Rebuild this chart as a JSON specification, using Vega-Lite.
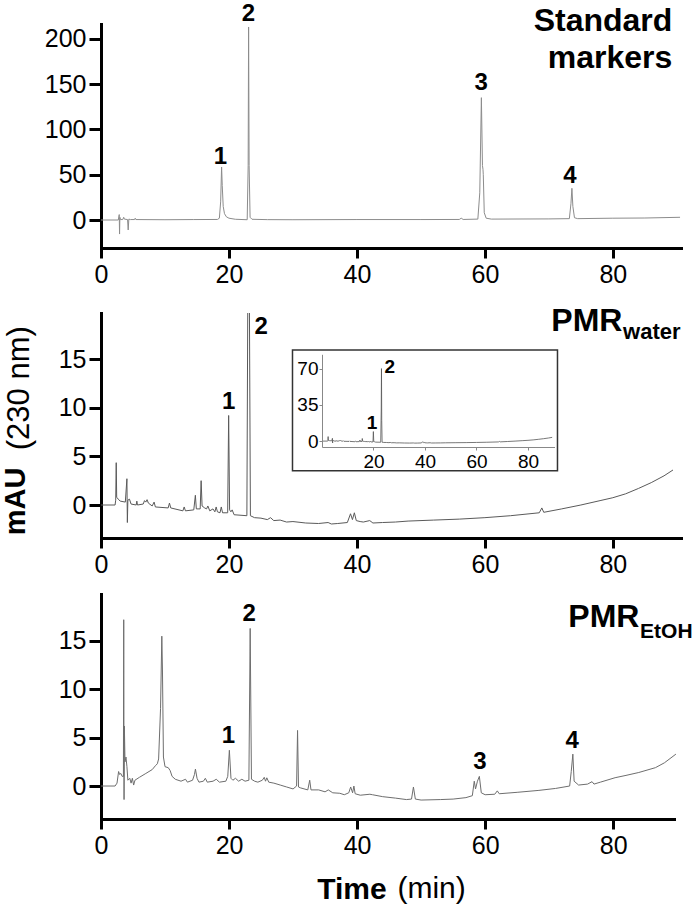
{
  "$schema": "https://vega.github.io/schema/vega-lite/v6.json",
  "padding": {"left": 1, "top": 2, "right": 0, "bottom": 0},
  "spacing": 17,
  "config": {
    "view": {"stroke": null},
    "font": "Liberation Sans",
    "axis": {"grid": false, "domainColor": "black", "domainWidth": 3, "domainCap": "square", "tickColor": "black", "tickWidth": 3, "labelFont": "Liberation Sans", "labelFontSize": 25, "labelColor": "black", "labelFlush": false, "titleFont": "Liberation Sans", "titleColor": "black"},
    "text": {"font": "Liberation Sans", "color": "black"}
  },
  "datasets": {
    "std": [
      {"t":0,"mAU":0},{"t":2.7,"mAU":0},{"t":2.85,"mAU":6},{"t":2.9,"mAU":-15.5},{"t":2.95,"mAU":3},{"t":3.05,"mAU":0.5},{"t":3.4,"mAU":0.5},{"t":3.55,"mAU":3},{"t":3.65,"mAU":1},{"t":4.15,"mAU":0.5},{"t":4.25,"mAU":-11},{"t":4.35,"mAU":1},{"t":4.6,"mAU":0.5},{"t":5.25,"mAU":0.5},{"t":5.35,"mAU":2},{"t":5.45,"mAU":0.5},{"t":10,"mAU":0.3},{"t":14.5,"mAU":0.5},{"t":18.2,"mAU":0.6},{"t":18.5,"mAU":2},{"t":18.7,"mAU":20},{"t":18.85,"mAU":58.5},{"t":18.95,"mAU":38},{"t":19.1,"mAU":15},{"t":19.3,"mAU":7},{"t":19.6,"mAU":3.5},{"t":20,"mAU":2},{"t":21,"mAU":0.8},{"t":22.85,"mAU":0.3},{"t":23.0,"mAU":60},{"t":23.07,"mAU":213},{"t":23.15,"mAU":60},{"t":23.3,"mAU":3},{"t":23.6,"mAU":0.8},{"t":26,"mAU":0.4},{"t":30,"mAU":0.3},{"t":40,"mAU":0.5},{"t":50,"mAU":0.5},{"t":56,"mAU":0.6},{"t":56.3,"mAU":2},{"t":56.6,"mAU":0.6},{"t":58.9,"mAU":1},{"t":59.2,"mAU":30},{"t":59.45,"mAU":135},{"t":59.62,"mAU":60},{"t":59.7,"mAU":56},{"t":59.75,"mAU":50},{"t":59.9,"mAU":8},{"t":60.2,"mAU":2},{"t":61,"mAU":1},{"t":70,"mAU":1.2},{"t":73.2,"mAU":1.5},{"t":73.45,"mAU":18},{"t":73.6,"mAU":35},{"t":73.75,"mAU":15},{"t":74.0,"mAU":2.5},{"t":74.5,"mAU":1.5},{"t":80,"mAU":2},{"t":85,"mAU":2.2},{"t":90.5,"mAU":3}
    ],
    "water": [
      {"t":0,"mAU":0},{"t":2.2,"mAU":0},{"t":2.3,"mAU":0.5},{"t":2.38,"mAU":4.35},{"t":2.45,"mAU":0.8},{"t":2.7,"mAU":0.6},{"t":3.0,"mAU":0.4},{"t":3.8,"mAU":0.3},{"t":4.05,"mAU":2.7},{"t":4.12,"mAU":-1.8},{"t":4.2,"mAU":0.5},{"t":4.45,"mAU":0.6},{"t":4.7,"mAU":0.1},{"t":5.5,"mAU":0},{"t":5.6,"mAU":0.4},{"t":5.7,"mAU":0},{"t":6.6,"mAU":0.1},{"t":6.8,"mAU":0.45},{"t":7.0,"mAU":0.3},{"t":7.2,"mAU":0.55},{"t":7.4,"mAU":0.2},{"t":8.0,"mAU":-0.1},{"t":8.3,"mAU":0.3},{"t":8.5,"mAU":-0.2},{"t":10.5,"mAU":-0.3},{"t":10.7,"mAU":0.2},{"t":10.9,"mAU":-0.3},{"t":12.8,"mAU":-0.6},{"t":13.0,"mAU":-0.2},{"t":13.2,"mAU":-0.6},{"t":14.5,"mAU":-0.5},{"t":14.75,"mAU":1.0},{"t":14.9,"mAU":-0.4},{"t":15.5,"mAU":-0.4},{"t":15.65,"mAU":2.5},{"t":15.8,"mAU":-0.1},{"t":16.2,"mAU":-0.3},{"t":16.5,"mAU":-0.4},{"t":16.7,"mAU":-0.1},{"t":17.0,"mAU":-0.6},{"t":17.5,"mAU":-0.4},{"t":17.8,"mAU":-0.7},{"t":18.0,"mAU":-0.2},{"t":18.2,"mAU":-0.7},{"t":18.6,"mAU":-0.8},{"t":18.8,"mAU":-0.2},{"t":19.0,"mAU":-0.8},{"t":19.8,"mAU":-0.8},{"t":19.95,"mAU":9.2},{"t":20.1,"mAU":-0.5},{"t":20.3,"mAU":-0.7},{"t":20.5,"mAU":-0.5},{"t":20.8,"mAU":-1.0},{"t":22.8,"mAU":-1.1},{"t":23.0,"mAU":30},{"t":23.1,"mAU":70},{"t":23.2,"mAU":20},{"t":23.35,"mAU":-1.1},{"t":24,"mAU":-1.3},{"t":25,"mAU":-1.35},{"t":26,"mAU":-1.5},{"t":26.5,"mAU":-1.3},{"t":27,"mAU":-1.6},{"t":28,"mAU":-1.55},{"t":29,"mAU":-1.75},{"t":30,"mAU":-1.7},{"t":32,"mAU":-1.85},{"t":34,"mAU":-1.9},{"t":35.5,"mAU":-1.8},{"t":36,"mAU":-1.95},{"t":37,"mAU":-1.9},{"t":38.5,"mAU":-1.8},{"t":39.0,"mAU":-0.9},{"t":39.3,"mAU":-1.5},{"t":39.6,"mAU":-0.8},{"t":39.9,"mAU":-1.6},{"t":40.5,"mAU":-1.7},{"t":41,"mAU":-1.75},{"t":42,"mAU":-1.6},{"t":42.5,"mAU":-1.85},{"t":44,"mAU":-1.8},{"t":46,"mAU":-1.75},{"t":48,"mAU":-1.65},{"t":52,"mAU":-1.55},{"t":56,"mAU":-1.45},{"t":60,"mAU":-1.3},{"t":64,"mAU":-1.1},{"t":68.5,"mAU":-0.8},{"t":68.9,"mAU":-0.3},{"t":69.2,"mAU":-0.75},{"t":72,"mAU":-0.4},{"t":75,"mAU":0},{"t":78,"mAU":0.45},{"t":80,"mAU":0.75},{"t":82,"mAU":1.15},{"t":84,"mAU":1.7},{"t":86,"mAU":2.3},{"t":88,"mAU":3.0},{"t":89.4,"mAU":3.6}
    ],
    "etoh": [
      {"t":0,"mAU":0},{"t":2.2,"mAU":0},{"t":2.5,"mAU":0.3},{"t":2.75,"mAU":1.5},{"t":2.9,"mAU":1.2},{"t":3.1,"mAU":1.3},{"t":3.3,"mAU":1.0},{"t":3.5,"mAU":1.0},{"t":3.55,"mAU":17.2},{"t":3.6,"mAU":-1.4},{"t":3.65,"mAU":6.2},{"t":3.75,"mAU":2.5},{"t":3.9,"mAU":3.0},{"t":4.05,"mAU":2.0},{"t":4.2,"mAU":0.6},{"t":4.5,"mAU":0.8},{"t":4.7,"mAU":0.3},{"t":4.9,"mAU":0.8},{"t":5.1,"mAU":0.1},{"t":5.3,"mAU":0.6},{"t":6,"mAU":0.9},{"t":7,"mAU":1.3},{"t":8,"mAU":1.7},{"t":8.5,"mAU":2.1},{"t":8.8,"mAU":2.3},{"t":9.0,"mAU":2.8},{"t":9.3,"mAU":8},{"t":9.5,"mAU":15.5},{"t":9.6,"mAU":12},{"t":9.75,"mAU":3},{"t":10.0,"mAU":2.0},{"t":10.5,"mAU":1.9},{"t":10.8,"mAU":1.6},{"t":11.1,"mAU":1.0},{"t":11.6,"mAU":0.7},{"t":12.5,"mAU":0.5},{"t":13.2,"mAU":0.7},{"t":13.5,"mAU":0.4},{"t":14.3,"mAU":0.6},{"t":14.6,"mAU":1.2},{"t":14.75,"mAU":1.75},{"t":15.0,"mAU":0.8},{"t":15.3,"mAU":0.4},{"t":16.0,"mAU":0.5},{"t":16.3,"mAU":0.8},{"t":16.6,"mAU":0.4},{"t":17.5,"mAU":0.5},{"t":18.0,"mAU":0.7},{"t":18.5,"mAU":0.4},{"t":19.5,"mAU":0.5},{"t":19.8,"mAU":1.0},{"t":20.05,"mAU":3.7},{"t":20.3,"mAU":0.8},{"t":20.6,"mAU":0.6},{"t":21.0,"mAU":0.8},{"t":21.5,"mAU":0.5},{"t":22.0,"mAU":0.7},{"t":22.5,"mAU":0.5},{"t":23.1,"mAU":0.6},{"t":23.3,"mAU":16.3},{"t":23.5,"mAU":0.7},{"t":24,"mAU":0.5},{"t":24.5,"mAU":0.4},{"t":25.2,"mAU":0.6},{"t":25.5,"mAU":0.9},{"t":25.7,"mAU":0.5},{"t":25.9,"mAU":0.85},{"t":26.2,"mAU":0.4},{"t":27,"mAU":0.3},{"t":28,"mAU":0.1},{"t":29,"mAU":-0.1},{"t":30,"mAU":-0.3},{"t":30.55,"mAU":0},{"t":30.7,"mAU":5.75},{"t":30.85,"mAU":-0.1},{"t":31.2,"mAU":-0.2},{"t":32.3,"mAU":-0.4},{"t":32.6,"mAU":0.6},{"t":32.8,"mAU":-0.4},{"t":34,"mAU":-0.4},{"t":35,"mAU":-0.6},{"t":35.5,"mAU":-0.4},{"t":36.2,"mAU":-0.7},{"t":37.3,"mAU":-0.75},{"t":38,"mAU":-0.9},{"t":38.7,"mAU":-0.7},{"t":39.0,"mAU":-0.1},{"t":39.3,"mAU":-0.7},{"t":39.5,"mAU":0},{"t":39.7,"mAU":-0.8},{"t":40.5,"mAU":-0.95},{"t":42,"mAU":-0.85},{"t":42.4,"mAU":-0.9},{"t":44,"mAU":-1.1},{"t":46,"mAU":-1.25},{"t":47.7,"mAU":-1.4},{"t":48.5,"mAU":-1.35},{"t":48.8,"mAU":-0.1},{"t":49.1,"mAU":-1.35},{"t":50,"mAU":-1.45},{"t":53,"mAU":-1.4},{"t":55,"mAU":-1.35},{"t":57,"mAU":-1.2},{"t":58.0,"mAU":-1.0},{"t":58.3,"mAU":0.5},{"t":58.5,"mAU":-0.3},{"t":58.8,"mAU":0.5},{"t":59.1,"mAU":1.0},{"t":59.4,"mAU":-0.7},{"t":60,"mAU":-0.9},{"t":61.5,"mAU":-0.85},{"t":61.9,"mAU":-0.5},{"t":62.2,"mAU":-0.8},{"t":65,"mAU":-0.65},{"t":68.4,"mAU":-0.45},{"t":71,"mAU":-0.25},{"t":73.2,"mAU":0},{"t":73.45,"mAU":1.5},{"t":73.7,"mAU":3.3},{"t":73.9,"mAU":0.5},{"t":74.6,"mAU":0.1},{"t":76,"mAU":0.2},{"t":76.7,"mAU":0.45},{"t":77.0,"mAU":0.2},{"t":78,"mAU":0.4},{"t":80.3,"mAU":0.86},{"t":82,"mAU":1.1},{"t":84,"mAU":1.4},{"t":86.6,"mAU":1.9},{"t":88,"mAU":2.4},{"t":89.8,"mAU":3.3}
    ],
    "std_peaks": [{"t":18.67,"mAU":62,"label":"1"},{"t":23.05,"mAU":219.6,"label":"2"},{"t":59.4,"mAU":143,"label":"3"},{"t":73.3,"mAU":41.2,"label":"4"}],
    "std_title": [{"t":89.3,"mAU":208.6,"label":"Standard"},{"t":89.3,"mAU":167.8,"label":"markers"}],
    "water_peaks": [{"t":19.95,"mAU":9.84,"label":"1"},{"t":25.03,"mAU":17.55,"label":"2"}],
    "water_title": [{"t":81.5,"mAU":17.9,"label":"PMR"}],
    "water_sub": [{"t":81.6,"mAU":17.1,"label":"water"}],
    "unit": [{"t":-11.25,"mAU":12.0,"label":"(230 nm)"}],
    "inset_frame": [{"t":-11.46,"t2":91.46,"mAU":87.95,"mAU2":-28.7}],
    "inset_peaks": [{"t":19.4,"mAU":11.2,"label":"1"},{"t":26.3,"mAU":65.3,"label":"2"}],
    "etoh_peaks": [{"t":19.9,"mAU":4.4,"label":"1"},{"t":23.16,"mAU":17.1,"label":"2"},{"t":59.2,"mAU":1.73,"label":"3"},{"t":73.6,"mAU":3.96,"label":"4"}],
    "etoh_title": [{"t":84.1,"mAU":16.4,"label":"PMR"}],
    "etoh_sub": [{"t":84.2,"mAU":15.3,"label":"EtOH"}],
    "time_unit": [{"t":46.3,"mAU":-11.6,"label":"(min)"}]
  },
  "vconcat": [
    {
      "width": 580, "height": 224,
      "encoding": {
        "x": {"field": "t", "type": "quantitative", "scale": {"domain": [0, 90.65], "nice": false, "zero": false}, "axis": {"values": [0,20,40,60,80], "title": null, "tickSize": 10, "labelPadding": 4}},
        "y": {"field": "mAU", "type": "quantitative", "scale": {"domain": [-30.9, 216.3], "nice": false, "zero": false}, "axis": {"values": [0,50,100,150,200], "title": null, "tickSize": 12, "labelPadding": 3}}
      },
      "layer": [
        {"data": {"name": "std"}, "mark": {"type": "line", "color": "#8c8c8c", "strokeWidth": 1}},
        {"data": {"name": "std_peaks"}, "mark": {"type": "text", "fontSize": 24, "fontWeight": "bold", "align": "center", "baseline": "alphabetic"}, "encoding": {"text": {"field": "label"}}},
        {"data": {"name": "std_title"}, "mark": {"type": "text", "fontSize": 32, "fontWeight": "bold", "align": "right", "baseline": "alphabetic"}, "encoding": {"text": {"field": "label"}}}
      ]
    },
    {
      "width": 580, "height": 225,
      "layer": [
        {
          "encoding": {
            "x": {"field": "t", "type": "quantitative", "scale": {"domain": [0, 90.65], "nice": false, "zero": false}, "axis": {"values": [0,20,40,60,80], "title": null, "tickSize": 10, "labelPadding": 4, "orient": "bottom"}},
            "y": {"field": "mAU", "type": "quantitative", "scale": {"domain": [-3.39, 19.73], "nice": false, "zero": false}, "axis": {"values": [0,5,10,15], "tickSize": 12, "labelPadding": 3, "orient": "left", "title": "mAU", "titleFontSize": 29, "titleFontWeight": "bold", "titleAngle": 270, "titleX": -76.5, "titleY": 188, "titleAlign": "center", "titleBaseline": "alphabetic"}}
          },
          "layer": [
            {"data": {"name": "water"}, "mark": {"type": "line", "color": "#5a5a5a", "strokeWidth": 1, "clip": true}},
            {"data": {"name": "water_peaks"}, "mark": {"type": "text", "fontSize": 24, "fontWeight": "bold", "align": "center", "baseline": "alphabetic"}, "encoding": {"text": {"field": "label"}}},
            {"data": {"name": "water_title"}, "mark": {"type": "text", "fontSize": 32, "fontWeight": "bold", "align": "right", "baseline": "alphabetic"}, "encoding": {"text": {"field": "label"}}},
            {"data": {"name": "water_sub"}, "mark": {"type": "text", "fontSize": 22, "fontWeight": "bold", "align": "left", "baseline": "alphabetic"}, "encoding": {"text": {"field": "label"}}},
            {"data": {"name": "unit"}, "mark": {"type": "text", "fontSize": 31, "fontWeight": "normal", "align": "center", "baseline": "alphabetic", "angle": 270}, "encoding": {"text": {"field": "label"}}}
          ]
        },
        {
          "encoding": {
            "x": {"field": "t", "type": "quantitative", "scale": {"domain": [0, 90.3], "range": [221, 453.5], "nice": false, "zero": false}, "axis": {"orient": "bottom", "offset": -91, "zindex": 1, "values": [20,40,60,80], "title": null, "domainColor": "#888888", "domainWidth": 1, "domainCap": "butt", "tickColor": "#888888", "tickWidth": 1, "tickSize": 3, "labelFontSize": 19, "labelPadding": 2}},
            "y": {"field": "mAU", "type": "quantitative", "scale": {"domain": [-5.7, 83.8], "range": [134, 41.3], "nice": false, "zero": false}, "axis": {"orient": "left", "offset": -221, "zindex": 1, "values": [0,35,70], "title": null, "domainColor": "#888888", "domainWidth": 1, "domainCap": "butt", "tickColor": "#888888", "tickWidth": 1, "tickSize": 3, "labelFontSize": 19, "labelPadding": 1}}
          },
          "layer": [
            {"data": {"name": "inset_frame"}, "mark": {"type": "rect", "fill": "white", "stroke": "#333333", "strokeWidth": 1.5}, "encoding": {"x2": {"field": "t2"}, "y2": {"field": "mAU2"}}},
            {"data": {"name": "water"}, "mark": {"type": "line", "color": "#555555", "strokeWidth": 0.8}},
            {"data": {"name": "inset_peaks"}, "mark": {"type": "text", "fontSize": 19, "fontWeight": "bold", "align": "center", "baseline": "alphabetic"}, "encoding": {"text": {"field": "label"}}}
          ]
        }
      ],
      "resolve": {"scale": {"x": "independent", "y": "independent"}, "axis": {"x": "independent", "y": "independent"}}
    },
    {
      "width": 573, "height": 225,
      "encoding": {
        "x": {"field": "t", "type": "quantitative", "scale": {"domain": [0, 89.5], "nice": false, "zero": false}, "axis": {"values": [0,20,40,60,80], "tickSize": 10, "labelPadding": 4, "title": "Time", "titleFontSize": 30, "titleFontWeight": "bold", "titleX": 285.2, "titleY": 79, "titleAlign": "right", "titleBaseline": "alphabetic", "titleAngle": 0}},
        "y": {"field": "mAU", "type": "quantitative", "scale": {"domain": [-3.41, 19.86], "nice": false, "zero": false}, "axis": {"values": [0,5,10,15], "title": null, "tickSize": 12, "labelPadding": 3}}
      },
      "layer": [
        {"data": {"name": "etoh"}, "mark": {"type": "line", "color": "#6e6e6e", "strokeWidth": 1}},
        {"data": {"name": "etoh_peaks"}, "mark": {"type": "text", "fontSize": 24, "fontWeight": "bold", "align": "center", "baseline": "alphabetic"}, "encoding": {"text": {"field": "label"}}},
        {"data": {"name": "etoh_title"}, "mark": {"type": "text", "fontSize": 32, "fontWeight": "bold", "align": "right", "baseline": "alphabetic"}, "encoding": {"text": {"field": "label"}}},
        {"data": {"name": "etoh_sub"}, "mark": {"type": "text", "fontSize": 21, "fontWeight": "bold", "align": "left", "baseline": "alphabetic"}, "encoding": {"text": {"field": "label"}}},
        {"data": {"name": "time_unit"}, "mark": {"type": "text", "fontSize": 30, "fontWeight": "normal", "align": "left", "baseline": "alphabetic"}, "encoding": {"text": {"field": "label"}}}
      ]
    }
  ]
}
